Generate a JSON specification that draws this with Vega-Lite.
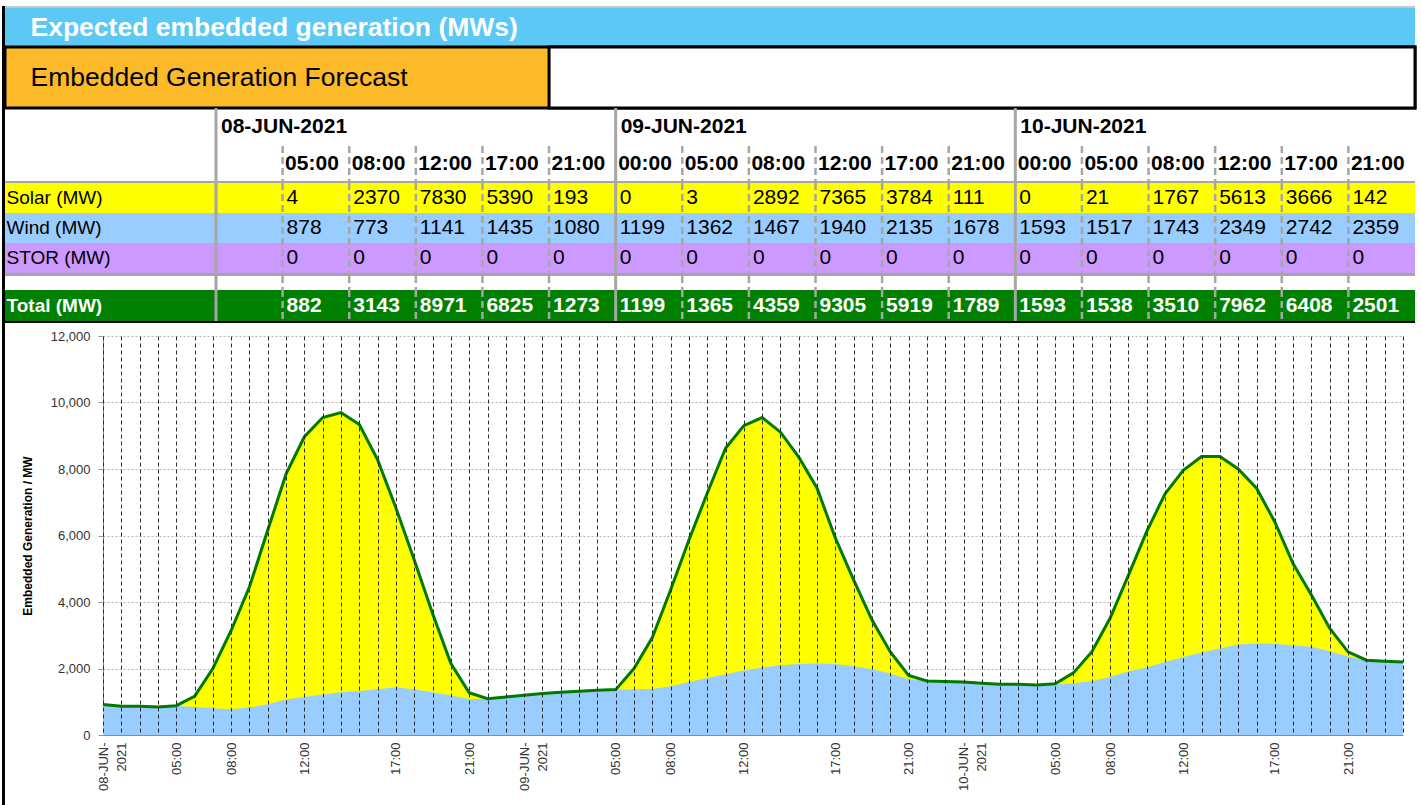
{
"$schema":"https://vega.github.io/schema/vega-lite/v6.json",
"background":"#ffffff",
"padding":{"left":2,"top":6,"right":4,"bottom":0},
"config":{"view":{"stroke":null},"font":"Liberation Sans","axis":{"labelFont":"Liberation Sans","titleFont":"Liberation Sans"}},
"datasets":{
"days":[{"slot":"08-JUN-2021 00:00","day":"08-JUN-2021"},{"slot":"09-JUN-2021 00:00","day":"09-JUN-2021"},{"slot":"10-JUN-2021 00:00","day":"10-JUN-2021"}],
"table":[
{"slot":"08-JUN-2021 05:00","time":"05:00","Solar (MW)":4,"Wind (MW)":878,"STOR (MW)":0,"Total (MW)":882},
{"slot":"08-JUN-2021 08:00","time":"08:00","Solar (MW)":2370,"Wind (MW)":773,"STOR (MW)":0,"Total (MW)":3143},
{"slot":"08-JUN-2021 12:00","time":"12:00","Solar (MW)":7830,"Wind (MW)":1141,"STOR (MW)":0,"Total (MW)":8971},
{"slot":"08-JUN-2021 17:00","time":"17:00","Solar (MW)":5390,"Wind (MW)":1435,"STOR (MW)":0,"Total (MW)":6825},
{"slot":"08-JUN-2021 21:00","time":"21:00","Solar (MW)":193,"Wind (MW)":1080,"STOR (MW)":0,"Total (MW)":1273},
{"slot":"09-JUN-2021 00:00","time":"00:00","Solar (MW)":0,"Wind (MW)":1199,"STOR (MW)":0,"Total (MW)":1199},
{"slot":"09-JUN-2021 05:00","time":"05:00","Solar (MW)":3,"Wind (MW)":1362,"STOR (MW)":0,"Total (MW)":1365},
{"slot":"09-JUN-2021 08:00","time":"08:00","Solar (MW)":2892,"Wind (MW)":1467,"STOR (MW)":0,"Total (MW)":4359},
{"slot":"09-JUN-2021 12:00","time":"12:00","Solar (MW)":7365,"Wind (MW)":1940,"STOR (MW)":0,"Total (MW)":9305},
{"slot":"09-JUN-2021 17:00","time":"17:00","Solar (MW)":3784,"Wind (MW)":2135,"STOR (MW)":0,"Total (MW)":5919},
{"slot":"09-JUN-2021 21:00","time":"21:00","Solar (MW)":111,"Wind (MW)":1678,"STOR (MW)":0,"Total (MW)":1789},
{"slot":"10-JUN-2021 00:00","time":"00:00","Solar (MW)":0,"Wind (MW)":1593,"STOR (MW)":0,"Total (MW)":1593},
{"slot":"10-JUN-2021 05:00","time":"05:00","Solar (MW)":21,"Wind (MW)":1517,"STOR (MW)":0,"Total (MW)":1538},
{"slot":"10-JUN-2021 08:00","time":"08:00","Solar (MW)":1767,"Wind (MW)":1743,"STOR (MW)":0,"Total (MW)":3510},
{"slot":"10-JUN-2021 12:00","time":"12:00","Solar (MW)":5613,"Wind (MW)":2349,"STOR (MW)":0,"Total (MW)":7962},
{"slot":"10-JUN-2021 17:00","time":"17:00","Solar (MW)":3666,"Wind (MW)":2742,"STOR (MW)":0,"Total (MW)":6408},
{"slot":"10-JUN-2021 21:00","time":"21:00","Solar (MW)":142,"Wind (MW)":2359,"STOR (MW)":0,"Total (MW)":2501}
],
"chart":[
{"period":"2021-06-08 01:00","total":915,"wind":915},
{"period":"2021-06-08 02:00","total":864,"wind":864},
{"period":"2021-06-08 03:00","total":866,"wind":866},
{"period":"2021-06-08 04:00","total":844,"wind":844},
{"period":"2021-06-08 05:00","total":882,"wind":878},
{"period":"2021-06-08 06:00","total":1166,"wind":844},
{"period":"2021-06-08 07:00","total":2000,"wind":804},
{"period":"2021-06-08 08:00","total":3143,"wind":773},
{"period":"2021-06-08 09:00","total":4458,"wind":825},
{"period":"2021-06-08 10:00","total":6166,"wind":925},
{"period":"2021-06-08 11:00","total":7852,"wind":1066},
{"period":"2021-06-08 12:00","total":8971,"wind":1141},
{"period":"2021-06-08 13:00","total":9548,"wind":1217},
{"period":"2021-06-08 14:00","total":9699,"wind":1286},
{"period":"2021-06-08 15:00","total":9337,"wind":1326},
{"period":"2021-06-08 16:00","total":8274,"wind":1376},
{"period":"2021-06-08 17:00","total":6825,"wind":1435},
{"period":"2021-06-08 18:00","total":5262,"wind":1367},
{"period":"2021-06-08 19:00","total":3656,"wind":1286},
{"period":"2021-06-08 20:00","total":2150,"wind":1186},
{"period":"2021-06-08 21:00","total":1273,"wind":1080},
{"period":"2021-06-08 22:00","total":1090,"wind":1088},
{"period":"2021-06-08 23:00","total":1145,"wind":1145},
{"period":"2021-06-09 00:00","total":1199,"wind":1199},
{"period":"2021-06-09 01:00","total":1247,"wind":1247},
{"period":"2021-06-09 02:00","total":1286,"wind":1286},
{"period":"2021-06-09 03:00","total":1316,"wind":1316},
{"period":"2021-06-09 04:00","total":1346,"wind":1346},
{"period":"2021-06-09 05:00","total":1365,"wind":1362},
{"period":"2021-06-09 06:00","total":2000,"wind":1376},
{"period":"2021-06-09 07:00","total":2933,"wind":1386},
{"period":"2021-06-09 08:00","total":4359,"wind":1467},
{"period":"2021-06-09 09:00","total":5864,"wind":1596},
{"period":"2021-06-09 10:00","total":7271,"wind":1717},
{"period":"2021-06-09 11:00","total":8626,"wind":1828},
{"period":"2021-06-09 12:00","total":9305,"wind":1940},
{"period":"2021-06-09 13:00","total":9548,"wind":2030},
{"period":"2021-06-09 14:00","total":9107,"wind":2099},
{"period":"2021-06-09 15:00","total":8355,"wind":2139},
{"period":"2021-06-09 16:00","total":7421,"wind":2150},
{"period":"2021-06-09 17:00","total":5919,"wind":2135},
{"period":"2021-06-09 18:00","total":4659,"wind":2069},
{"period":"2021-06-09 19:00","total":3455,"wind":1979},
{"period":"2021-06-09 20:00","total":2500,"wind":1849},
{"period":"2021-06-09 21:00","total":1789,"wind":1678},
{"period":"2021-06-09 22:00","total":1626,"wind":1626},
{"period":"2021-06-09 23:00","total":1608,"wind":1608},
{"period":"2021-06-10 00:00","total":1593,"wind":1593},
{"period":"2021-06-10 01:00","total":1557,"wind":1557},
{"period":"2021-06-10 02:00","total":1527,"wind":1527},
{"period":"2021-06-10 03:00","total":1527,"wind":1527},
{"period":"2021-06-10 04:00","total":1506,"wind":1506},
{"period":"2021-06-10 05:00","total":1538,"wind":1517},
{"period":"2021-06-10 06:00","total":1868,"wind":1557},
{"period":"2021-06-10 07:00","total":2500,"wind":1617},
{"period":"2021-06-10 08:00","total":3510,"wind":1743},
{"period":"2021-06-10 09:00","total":4800,"wind":1919},
{"period":"2021-06-10 10:00","total":6115,"wind":2030},
{"period":"2021-06-10 11:00","total":7250,"wind":2199},
{"period":"2021-06-10 12:00","total":7962,"wind":2349},
{"period":"2021-06-10 13:00","total":8374,"wind":2481},
{"period":"2021-06-10 14:00","total":8374,"wind":2602},
{"period":"2021-06-10 15:00","total":8003,"wind":2723},
{"period":"2021-06-10 16:00","total":7421,"wind":2753},
{"period":"2021-06-10 17:00","total":6408,"wind":2742},
{"period":"2021-06-10 18:00","total":5150,"wind":2693},
{"period":"2021-06-10 19:00","total":4208,"wind":2651},
{"period":"2021-06-10 20:00","total":3204,"wind":2521},
{"period":"2021-06-10 21:00","total":2501,"wind":2359},
{"period":"2021-06-10 22:00","total":2250,"wind":2250},
{"period":"2021-06-10 23:00","total":2220,"wind":2220},
{"period":"2021-06-11 00:00","total":2199,"wind":2199}
]
},
"spacing":0,
"bounds":"flush",
"hconcat":[
{"width":3,"height":800,"data":{"values":[{}]},"mark":{"type":"rect","fill":"#000000"}},
{"spacing":0,"bounds":"flush","vconcat":[
{"width":1410,"height":2,"data":{"values":[{}]},"mark":{"type":"rect","fill":"#c8c8c8"}},
{"width":1410,"height":39,"data":{"values":[{"banner":"Expected embedded generation (MWs)"}]},"mark":{"type":"rect","fill":"#5bc8f5"},
 "encoding":{"y":{"field":"banner","type":"nominal","scale":{"paddingInner":0,"paddingOuter":0},"axis":{"orient":"left","domain":false,"ticks":false,"tickSize":0,"grid":false,"labelPadding":-25,"labelAlign":"left","labelFontSize":26.5,"labelFontWeight":"bold","labelColor":"#ffffff","labelLimit":1400,"zindex":1,"title":null}}}},
{"width":1410,"height":61,"layer":[
 {"data":{"values":[{"box":"Embedded Generation Forecast"}]},"mark":{"type":"rect","fill":"#fcba28","stroke":"#000000","strokeWidth":3},
  "encoding":{"y":{"field":"box","type":"nominal","scale":{"paddingInner":0,"paddingOuter":0},"axis":{"orient":"left","domain":false,"ticks":false,"tickSize":0,"grid":false,"labelPadding":-25,"labelAlign":"left","labelFontSize":26.5,"labelColor":"#000000","labelLimit":1400,"zindex":1,"title":null}}}},
 {"data":{"values":[{"box":"Embedded Generation Forecast"}]},"mark":{"type":"rect","fill":"#ffffff","stroke":"#000000","strokeWidth":3},
  "encoding":{"x":{"datum":"08-JUN-2021 21:00","type":"nominal","bandPosition":0,"scale":{"type":"band","domain":["08-JUN-2021 00:00","08-JUN-2021 05:00","08-JUN-2021 08:00","08-JUN-2021 12:00","08-JUN-2021 17:00","08-JUN-2021 21:00","09-JUN-2021 00:00","09-JUN-2021 05:00","09-JUN-2021 08:00","09-JUN-2021 12:00","09-JUN-2021 17:00","09-JUN-2021 21:00","10-JUN-2021 00:00","10-JUN-2021 05:00","10-JUN-2021 08:00","10-JUN-2021 12:00","10-JUN-2021 17:00","10-JUN-2021 21:00"],"range":[211,1410],"paddingInner":0,"paddingOuter":0},"axis":null},
   "x2":{"datum":"10-JUN-2021 21:00","bandPosition":1}}}
]},
{"width":1410,"height":38,"layer":[
 {"data":{"name":"days"},"mark":{"type":"rule","color":"#a6a6a6","strokeWidth":3},"encoding":{"x":{"field":"slot","type":"nominal","bandPosition":0,"scale":{"type":"band","domain":["08-JUN-2021 00:00","08-JUN-2021 05:00","08-JUN-2021 08:00","08-JUN-2021 12:00","08-JUN-2021 17:00","08-JUN-2021 21:00","09-JUN-2021 00:00","09-JUN-2021 05:00","09-JUN-2021 08:00","09-JUN-2021 12:00","09-JUN-2021 17:00","09-JUN-2021 21:00","10-JUN-2021 00:00","10-JUN-2021 05:00","10-JUN-2021 08:00","10-JUN-2021 12:00","10-JUN-2021 17:00","10-JUN-2021 21:00"],"range":[211,1410],"paddingInner":0,"paddingOuter":0},"axis":null}}},
 {"data":{"name":"days"},"mark":{"type":"text","align":"left","baseline":"middle","dx":5,"fontSize":21,"fontWeight":"bold","color":"#000000"},"encoding":{"x":{"field":"slot","type":"nominal","bandPosition":0,"scale":{"type":"band","domain":["08-JUN-2021 00:00","08-JUN-2021 05:00","08-JUN-2021 08:00","08-JUN-2021 12:00","08-JUN-2021 17:00","08-JUN-2021 21:00","09-JUN-2021 00:00","09-JUN-2021 05:00","09-JUN-2021 08:00","09-JUN-2021 12:00","09-JUN-2021 17:00","09-JUN-2021 21:00","10-JUN-2021 00:00","10-JUN-2021 05:00","10-JUN-2021 08:00","10-JUN-2021 12:00","10-JUN-2021 17:00","10-JUN-2021 21:00"],"range":[211,1410],"paddingInner":0,"paddingOuter":0},"axis":null},"text":{"field":"day","type":"nominal"}}}
]},
{"width":1410,"height":35,"layer":[
 {"data":{"name":"days"},"mark":{"type":"rule","color":"#a6a6a6","strokeWidth":3},"encoding":{"x":{"field":"slot","type":"nominal","bandPosition":0,"scale":{"type":"band","domain":["08-JUN-2021 00:00","08-JUN-2021 05:00","08-JUN-2021 08:00","08-JUN-2021 12:00","08-JUN-2021 17:00","08-JUN-2021 21:00","09-JUN-2021 00:00","09-JUN-2021 05:00","09-JUN-2021 08:00","09-JUN-2021 12:00","09-JUN-2021 17:00","09-JUN-2021 21:00","10-JUN-2021 00:00","10-JUN-2021 05:00","10-JUN-2021 08:00","10-JUN-2021 12:00","10-JUN-2021 17:00","10-JUN-2021 21:00"],"range":[211,1410],"paddingInner":0,"paddingOuter":0},"axis":null}}},
 {"data":{"name":"table"},"transform":[{"filter":"datum.time !== '00:00'"}],"mark":{"type":"rule","color":"#a6a6a6","strokeWidth":2.5,"strokeDash":[7,4]},"encoding":{"x":{"field":"slot","type":"nominal","bandPosition":0,"scale":{"type":"band","domain":["08-JUN-2021 00:00","08-JUN-2021 05:00","08-JUN-2021 08:00","08-JUN-2021 12:00","08-JUN-2021 17:00","08-JUN-2021 21:00","09-JUN-2021 00:00","09-JUN-2021 05:00","09-JUN-2021 08:00","09-JUN-2021 12:00","09-JUN-2021 17:00","09-JUN-2021 21:00","10-JUN-2021 00:00","10-JUN-2021 05:00","10-JUN-2021 08:00","10-JUN-2021 12:00","10-JUN-2021 17:00","10-JUN-2021 21:00"],"range":[211,1410],"paddingInner":0,"paddingOuter":0},"axis":null}}},
 {"data":{"name":"table"},"mark":{"type":"text","align":"left","baseline":"middle","dx":2.5,"fontSize":21,"fontWeight":"bold","color":"#000000"},"encoding":{"x":{"field":"slot","type":"nominal","bandPosition":0,"scale":{"type":"band","domain":["08-JUN-2021 00:00","08-JUN-2021 05:00","08-JUN-2021 08:00","08-JUN-2021 12:00","08-JUN-2021 17:00","08-JUN-2021 21:00","09-JUN-2021 00:00","09-JUN-2021 05:00","09-JUN-2021 08:00","09-JUN-2021 12:00","09-JUN-2021 17:00","09-JUN-2021 21:00","10-JUN-2021 00:00","10-JUN-2021 05:00","10-JUN-2021 08:00","10-JUN-2021 12:00","10-JUN-2021 17:00","10-JUN-2021 21:00"],"range":[211,1410],"paddingInner":0,"paddingOuter":0},"axis":null},"text":{"field":"time","type":"nominal"}}}
]},
{"width":1410,"height":2,"data":{"values":[{}]},"mark":{"type":"rect","fill":"#a6a6a6"}},
{"width":1410,"height":90,"layer":[
 {"data":{"name":"table"},"transform":[{"fold":["Solar (MW)","Wind (MW)","STOR (MW)"]},{"aggregate":[{"op":"count","as":"n"}],"groupby":["key"]}],"mark":{"type":"rect"},
  "encoding":{"y":{"field":"key","type":"nominal","title":null,"scale":{"type":"band","domain":["Solar (MW)","Wind (MW)","STOR (MW)"],"paddingInner":0,"paddingOuter":0},"axis":{"orient":"left","domain":false,"ticks":false,"tickSize":0,"grid":false,"labelPadding":-1,"labelAlign":"left","labelFontSize":19,"labelColor":"#000000","labelLimit":1000,"zindex":1,"title":null}},
   "color":{"field":"key","type":"nominal","scale":{"domain":["Solar (MW)","Wind (MW)","STOR (MW)"],"range":["#ffff00","#99ccff","#cc99ff"]},"legend":null}}},
 {"data":{"name":"days"},"mark":{"type":"rule","color":"#a6a6a6","strokeWidth":3},"encoding":{"x":{"field":"slot","type":"nominal","bandPosition":0,"scale":{"type":"band","domain":["08-JUN-2021 00:00","08-JUN-2021 05:00","08-JUN-2021 08:00","08-JUN-2021 12:00","08-JUN-2021 17:00","08-JUN-2021 21:00","09-JUN-2021 00:00","09-JUN-2021 05:00","09-JUN-2021 08:00","09-JUN-2021 12:00","09-JUN-2021 17:00","09-JUN-2021 21:00","10-JUN-2021 00:00","10-JUN-2021 05:00","10-JUN-2021 08:00","10-JUN-2021 12:00","10-JUN-2021 17:00","10-JUN-2021 21:00"],"range":[211,1410],"paddingInner":0,"paddingOuter":0},"axis":null}}},
 {"data":{"name":"table"},"transform":[{"filter":"datum.time !== '00:00'"}],"mark":{"type":"rule","color":"#a6a6a6","strokeWidth":2.5,"strokeDash":[7,4]},"encoding":{"x":{"field":"slot","type":"nominal","bandPosition":0,"scale":{"type":"band","domain":["08-JUN-2021 00:00","08-JUN-2021 05:00","08-JUN-2021 08:00","08-JUN-2021 12:00","08-JUN-2021 17:00","08-JUN-2021 21:00","09-JUN-2021 00:00","09-JUN-2021 05:00","09-JUN-2021 08:00","09-JUN-2021 12:00","09-JUN-2021 17:00","09-JUN-2021 21:00","10-JUN-2021 00:00","10-JUN-2021 05:00","10-JUN-2021 08:00","10-JUN-2021 12:00","10-JUN-2021 17:00","10-JUN-2021 21:00"],"range":[211,1410],"paddingInner":0,"paddingOuter":0},"axis":null}}},
 {"data":{"name":"table"},"transform":[{"fold":["Solar (MW)","Wind (MW)","STOR (MW)"]}],"mark":{"type":"text","align":"left","baseline":"middle","dx":4,"fontSize":21,"color":"#000000"},
  "encoding":{"x":{"field":"slot","type":"nominal","bandPosition":0,"scale":{"type":"band","domain":["08-JUN-2021 00:00","08-JUN-2021 05:00","08-JUN-2021 08:00","08-JUN-2021 12:00","08-JUN-2021 17:00","08-JUN-2021 21:00","09-JUN-2021 00:00","09-JUN-2021 05:00","09-JUN-2021 08:00","09-JUN-2021 12:00","09-JUN-2021 17:00","09-JUN-2021 21:00","10-JUN-2021 00:00","10-JUN-2021 05:00","10-JUN-2021 08:00","10-JUN-2021 12:00","10-JUN-2021 17:00","10-JUN-2021 21:00"],"range":[211,1410],"paddingInner":0,"paddingOuter":0},"axis":null},
   "y":{"field":"key","type":"nominal","title":null,"scale":{"type":"band","domain":["Solar (MW)","Wind (MW)","STOR (MW)"],"paddingInner":0,"paddingOuter":0},"axis":{"orient":"left","domain":false,"ticks":false,"tickSize":0,"grid":false,"labelPadding":-1,"labelAlign":"left","labelFontSize":19,"labelColor":"#000000","labelLimit":1000,"zindex":1,"title":null}},
   "text":{"field":"value","type":"quantitative","format":"d"}}}
]},
{"width":1410,"height":3,"data":{"values":[{}]},"mark":{"type":"rect","fill":"#a6a6a6"}},
{"width":1410,"height":14,"layer":[
 {"data":{"name":"days"},"mark":{"type":"rule","color":"#a6a6a6","strokeWidth":3},"encoding":{"x":{"field":"slot","type":"nominal","bandPosition":0,"scale":{"type":"band","domain":["08-JUN-2021 00:00","08-JUN-2021 05:00","08-JUN-2021 08:00","08-JUN-2021 12:00","08-JUN-2021 17:00","08-JUN-2021 21:00","09-JUN-2021 00:00","09-JUN-2021 05:00","09-JUN-2021 08:00","09-JUN-2021 12:00","09-JUN-2021 17:00","09-JUN-2021 21:00","10-JUN-2021 00:00","10-JUN-2021 05:00","10-JUN-2021 08:00","10-JUN-2021 12:00","10-JUN-2021 17:00","10-JUN-2021 21:00"],"range":[211,1410],"paddingInner":0,"paddingOuter":0},"axis":null}}},
 {"data":{"name":"table"},"transform":[{"filter":"datum.time !== '00:00'"}],"mark":{"type":"rule","color":"#a6a6a6","strokeWidth":2.5,"strokeDash":[7,4]},"encoding":{"x":{"field":"slot","type":"nominal","bandPosition":0,"scale":{"type":"band","domain":["08-JUN-2021 00:00","08-JUN-2021 05:00","08-JUN-2021 08:00","08-JUN-2021 12:00","08-JUN-2021 17:00","08-JUN-2021 21:00","09-JUN-2021 00:00","09-JUN-2021 05:00","09-JUN-2021 08:00","09-JUN-2021 12:00","09-JUN-2021 17:00","09-JUN-2021 21:00","10-JUN-2021 00:00","10-JUN-2021 05:00","10-JUN-2021 08:00","10-JUN-2021 12:00","10-JUN-2021 17:00","10-JUN-2021 21:00"],"range":[211,1410],"paddingInner":0,"paddingOuter":0},"axis":null}}}
]},
{"width":1410,"height":31,"layer":[
 {"data":{"name":"table"},"transform":[{"fold":["Total (MW)"]},{"aggregate":[{"op":"count","as":"n"}],"groupby":["key"]}],"mark":{"type":"rect","fill":"#008000"},
  "encoding":{"y":{"field":"key","type":"nominal","title":null,"scale":{"type":"band","domain":["Total (MW)"],"paddingInner":0,"paddingOuter":0},"axis":{"orient":"left","domain":false,"ticks":false,"tickSize":0,"grid":false,"labelPadding":-1,"labelAlign":"left","labelFontSize":19,"labelFontWeight":"bold","labelColor":"#ffffff","labelLimit":1000,"zindex":1,"title":null}}}},
 {"data":{"name":"days"},"mark":{"type":"rule","color":"#a6a6a6","strokeWidth":3},"encoding":{"x":{"field":"slot","type":"nominal","bandPosition":0,"scale":{"type":"band","domain":["08-JUN-2021 00:00","08-JUN-2021 05:00","08-JUN-2021 08:00","08-JUN-2021 12:00","08-JUN-2021 17:00","08-JUN-2021 21:00","09-JUN-2021 00:00","09-JUN-2021 05:00","09-JUN-2021 08:00","09-JUN-2021 12:00","09-JUN-2021 17:00","09-JUN-2021 21:00","10-JUN-2021 00:00","10-JUN-2021 05:00","10-JUN-2021 08:00","10-JUN-2021 12:00","10-JUN-2021 17:00","10-JUN-2021 21:00"],"range":[211,1410],"paddingInner":0,"paddingOuter":0},"axis":null}}},
 {"data":{"name":"table"},"transform":[{"filter":"datum.time !== '00:00'"}],"mark":{"type":"rule","color":"#a6a6a6","strokeWidth":2.5,"strokeDash":[7,4]},"encoding":{"x":{"field":"slot","type":"nominal","bandPosition":0,"scale":{"type":"band","domain":["08-JUN-2021 00:00","08-JUN-2021 05:00","08-JUN-2021 08:00","08-JUN-2021 12:00","08-JUN-2021 17:00","08-JUN-2021 21:00","09-JUN-2021 00:00","09-JUN-2021 05:00","09-JUN-2021 08:00","09-JUN-2021 12:00","09-JUN-2021 17:00","09-JUN-2021 21:00","10-JUN-2021 00:00","10-JUN-2021 05:00","10-JUN-2021 08:00","10-JUN-2021 12:00","10-JUN-2021 17:00","10-JUN-2021 21:00"],"range":[211,1410],"paddingInner":0,"paddingOuter":0},"axis":null}}},
 {"data":{"name":"table"},"transform":[{"fold":["Total (MW)"]}],"mark":{"type":"text","align":"left","baseline":"middle","dx":4,"fontSize":21,"fontWeight":"bold","color":"#ffffff"},
  "encoding":{"x":{"field":"slot","type":"nominal","bandPosition":0,"scale":{"type":"band","domain":["08-JUN-2021 00:00","08-JUN-2021 05:00","08-JUN-2021 08:00","08-JUN-2021 12:00","08-JUN-2021 17:00","08-JUN-2021 21:00","09-JUN-2021 00:00","09-JUN-2021 05:00","09-JUN-2021 08:00","09-JUN-2021 12:00","09-JUN-2021 17:00","09-JUN-2021 21:00","10-JUN-2021 00:00","10-JUN-2021 05:00","10-JUN-2021 08:00","10-JUN-2021 12:00","10-JUN-2021 17:00","10-JUN-2021 21:00"],"range":[211,1410],"paddingInner":0,"paddingOuter":0},"axis":null},
   "y":{"field":"key","type":"nominal","title":null,"scale":{"type":"band","domain":["Total (MW)"],"paddingInner":0,"paddingOuter":0},"axis":{"orient":"left","domain":false,"ticks":false,"tickSize":0,"grid":false,"labelPadding":-1,"labelAlign":"left","labelFontSize":19,"labelFontWeight":"bold","labelColor":"#ffffff","labelLimit":1000,"zindex":1,"title":null}},
   "text":{"field":"value","type":"quantitative","format":"d"}}}
]},
{"width":1410,"height":2,"data":{"values":[{}]},"mark":{"type":"rect","fill":"#000000"}},
{"width":1410,"height":13,"data":{"values":[{}]},"mark":{"type":"rect","fill":"#ffffff"}},
{"spacing":0,"bounds":"flush","hconcat":[
 {"width":98,"height":399,"data":{"values":[{}]},"mark":{"type":"rect","fill":"#ffffff"}},
 {"width":1300,"height":399,"data":{"name":"chart"},
  "encoding":{"x":{"field":"period","type":"ordinal","sort":null,"scale":{"type":"point","padding":0},
   "axis":{"labelAngle":-90,"labelExpr":"indexof(['2021-06-08 01:00','2021-06-09 00:00','2021-06-10 00:00'], datum.value) >= 0 ? [slice(datum.value, 8, 10) + '-JUN-', '2021'] : (indexof(['05:00','08:00','12:00','17:00','21:00'], slice(datum.value, 11)) >= 0 ? slice(datum.value, 11) : '')","labelFontSize":13,"labelColor":"#333333","labelPadding":7,"ticks":false,"tickSize":0,"grid":true,"gridColor":"#2b2b2b","gridDash":[4,3],"gridWidth":1,"domainColor":"#8c8c8c","zindex":1,"title":null,"labelOverlap":false,"labelLineHeight":18,"labelBound":false}}},
  "layer":[
   {"mark":{"type":"area","color":"#ffff00","opacity":1},"encoding":{"y":{"field":"total","type":"quantitative","title":"Embedded Generation / MW","scale":{"domain":[0,12000],"nice":false},
     "axis":{"values":[0,1000,2000,3000,4000,5000,6000,7000,8000,9000,10000,11000,12000],"labelExpr":"datum.value % 2000 === 0 ? format(datum.value, ',') : ''","labelFontSize":13,"labelColor":"#333333","labelPadding":8,"tickSize":5,"tickColor":{"condition":{"test":"datum.value % 2000 === 0","value":"#999999"},"value":"transparent"},"grid":true,"gridColor":"#b8b8b8","gridDash":{"condition":{"test":"datum.value % 2000 === 0","value":[2,2]},"value":[]},"domainColor":"#8c8c8c","titleFontSize":12,"titleFontWeight":"bold","titleColor":"#000000","titlePadding":16}}}},
   {"mark":{"type":"area","color":"#99ccff","opacity":1},"encoding":{"y":{"field":"wind","type":"quantitative","title":"Embedded Generation / MW"}}},
   {"mark":{"type":"line","color":"#007a00","strokeWidth":3},"encoding":{"y":{"field":"total","type":"quantitative","title":"Embedded Generation / MW"}}}
  ]}
]}
]}
]
}
